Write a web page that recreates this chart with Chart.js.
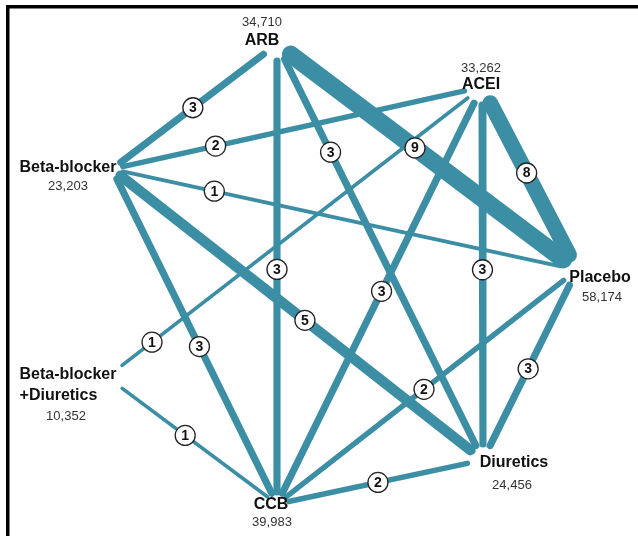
<!DOCTYPE html>
<html>
<head>
<meta charset="utf-8">
<script src="https://cdn.jsdelivr.net/npm/chart.js@4.4.1/dist/chart.umd.min.js"></script>
<style>
  html, body { margin: 0; padding: 0; background: #fff; }
  #wrap { width: 638px; height: 536px; }
</style>
</head>
<body>
<div id="wrap"><canvas id="net" width="638" height="536"></canvas></div>
<script>
// treatments (nodes) and number of patients
const treatments = ['ARB', 'ACEI', 'Beta-blocker', 'Placebo', 'Beta-blocker\n+Diuretics', 'Diuretics', 'CCB'];
const patients = [34710, 33262, 23203, 58174, 10352, 24456, 39983];

// direct comparisons: node index pairs and number of studies
const edgeFrom = [0, 2, 0, 0, 1, 2, 0, 1, 1, 2, 4, 2, 3, 3, 4, 6];
const edgeTo = [2, 1, 5, 3, 3, 3, 6, 5, 6, 5, 1, 6, 5, 6, 6, 5];
const edgeStudies = [3, 2, 3, 9, 8, 1, 3, 3, 3, 5, 1, 3, 3, 2, 1, 2];

// layout (pixel space of the 638x536 canvas)
const nodeX = [277, 482, 112, 577, 107, 483, 277];
const nodeY = [44, 87, 169, 270, 377, 460, 504];
const nodeGap = [17, 18, 11, 17, 19, 16, 12];
const nameX = [262, 481, 68, 600, 68, 514, 271];
const nameY = [41, 85, 168, 278, 375, 463, 505];
const countY = [22, 68, 186, 297, 416, 485, 522];
const countDx = [0, 0, 0, 2, -2, -2, 1];
const labelAt = [0.51, 0.28, 0.26, 0.46, 0.47, 0.22, 0.49, 0.49, 0.49, 0.52, 0.12, 0.53, 0.52, 0.51, 0.46, 0.49];

const TEAL = '#3b8ea4';
const FONT = '"Liberation Sans", Arial, Helvetica, sans-serif';

function trimmed(i) {
  const a = edgeFrom[i], b = edgeTo[i];
  const dx = nodeX[b] - nodeX[a], dy = nodeY[b] - nodeY[a];
  const len = Math.sqrt(dx * dx + dy * dy);
  const ux = dx / len, uy = dy / len;
  return [
    { x: nodeX[a] + ux * nodeGap[a], y: nodeY[a] + uy * nodeGap[a] },
    { x: nodeX[b] - ux * nodeGap[b], y: nodeY[b] - uy * nodeGap[b] }
  ];
}

const datasets = edgeStudies.map((n, i) => ({
  label: treatments[edgeFrom[i]] + ' vs ' + treatments[edgeTo[i]],
  data: trimmed(i),
  showLine: true,
  borderColor: TEAL,
  backgroundColor: TEAL,
  borderWidth: 2 + 1.7 * n,
  borderCapStyle: 'round',
  pointRadius: 0,
  pointHoverRadius: 0
}));

const networkLabels = {
  id: 'networkLabels',
  afterDatasetsDraw(chart) {
    const ctx = chart.ctx;
    const xs = chart.scales.x, ys = chart.scales.y;
    ctx.save();

    // frame
    ctx.fillStyle = '#000';
    ctx.fillRect(6, 5, 632, 3.5);
    ctx.fillRect(6, 5, 3.5, 531);

    // study counts on the edges
    edgeStudies.forEach((n, i) => {
      const a = edgeFrom[i], b = edgeTo[i];
      const t = labelAt[i];
      const px = xs.getPixelForValue(nodeX[a] + (nodeX[b] - nodeX[a]) * t);
      const py = ys.getPixelForValue(nodeY[a] + (nodeY[b] - nodeY[a]) * t);
      ctx.beginPath();
      ctx.arc(px, py, 10, 0, Math.PI * 2);
      ctx.fillStyle = '#fff';
      ctx.fill();
      ctx.lineWidth = 1.3;
      ctx.strokeStyle = '#222';
      ctx.stroke();
      ctx.fillStyle = '#111';
      ctx.font = 'bold 14px ' + FONT;
      ctx.textAlign = 'center';
      ctx.textBaseline = 'middle';
      ctx.fillText(String(n), px, py + 0.5);
    });

    // treatment names and patient numbers
    treatments.forEach((name, i) => {
      const lines = name.split('\n');
      ctx.font = 'bold 16px ' + FONT;
      ctx.fillStyle = '#111';
      ctx.textBaseline = 'middle';
      const w = Math.max(...lines.map(l => ctx.measureText(l).width));
      const cx = xs.getPixelForValue(nameX[i]);
      ctx.textAlign = 'left';
      lines.forEach((l, k) => {
        ctx.fillText(l, cx - w / 2, ys.getPixelForValue(nameY[i] + k * 21));
      });
      ctx.font = '13px ' + FONT;
      ctx.fillStyle = '#333';
      ctx.textAlign = 'center';
      ctx.fillText(patients[i].toLocaleString('en-US'),
        xs.getPixelForValue(nameX[i] + countDx[i]), ys.getPixelForValue(countY[i]));
    });
    ctx.restore();
  }
};

new Chart(document.getElementById('net').getContext('2d'), {
  type: 'scatter',
  data: { datasets: datasets },
  options: {
    responsive: false,
    animation: false,
    layout: { padding: 0 },
    plugins: { legend: { display: false }, tooltip: { enabled: false } },
    scales: {
      x: { type: 'linear', min: 0, max: 638, display: false },
      y: { type: 'linear', min: 0, max: 536, reverse: true, display: false }
    }
  },
  plugins: [networkLabels]
});
</script>
</body>
</html>
